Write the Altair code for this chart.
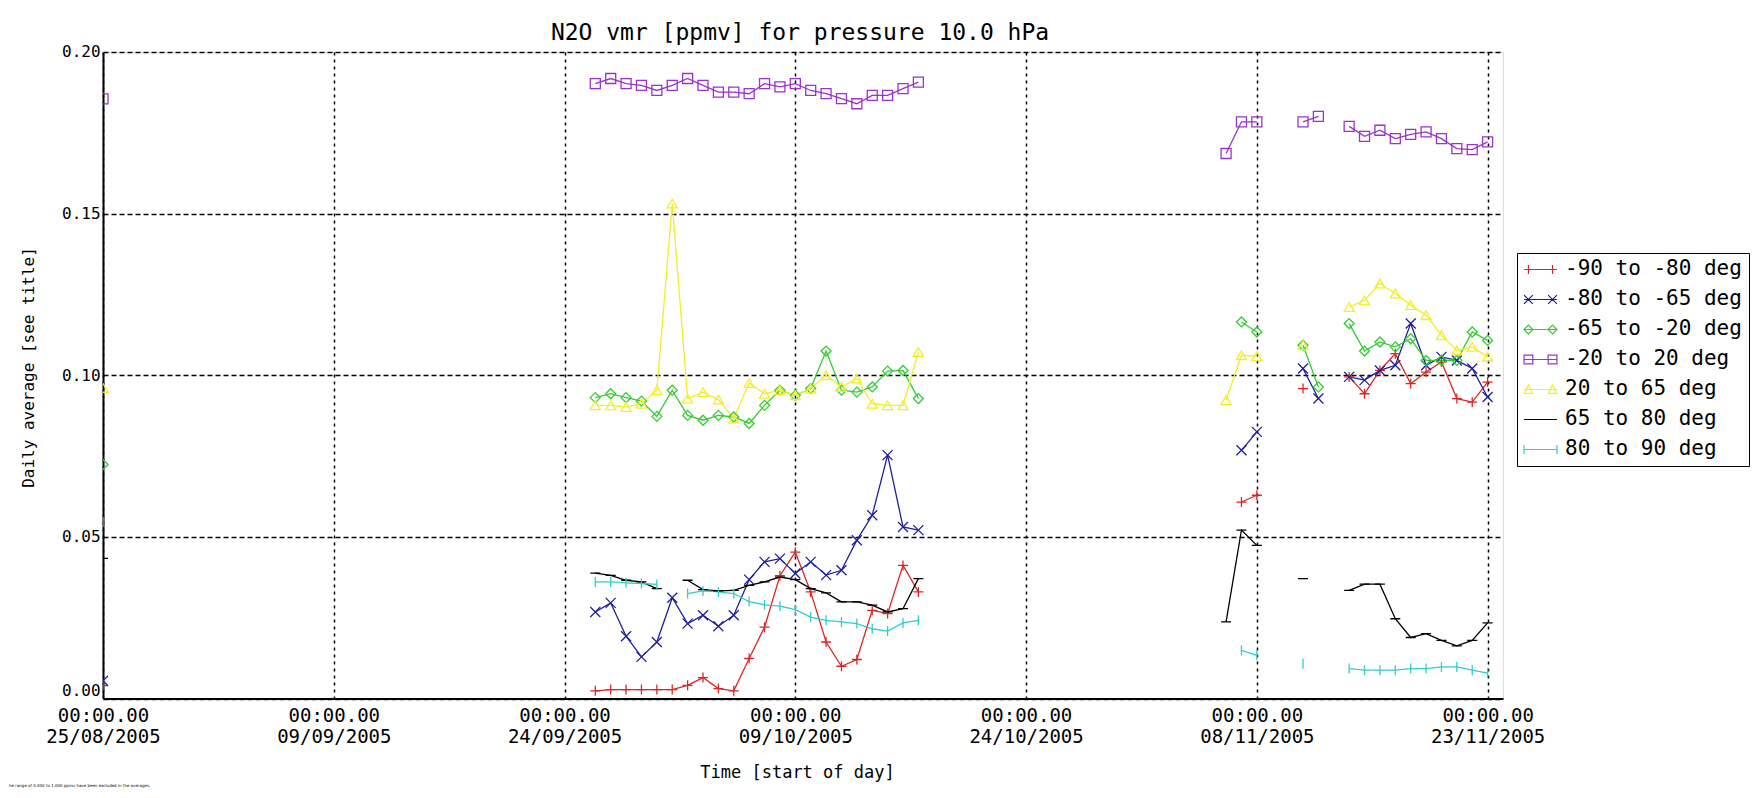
import altair as alt
from datetime import date

# ---------------- data ----------------
dates = [
    "2005-08-25",
    "2005-09-26", "2005-09-27", "2005-09-28", "2005-09-29", "2005-09-30",
    "2005-10-01", "2005-10-02", "2005-10-03", "2005-10-04", "2005-10-05",
    "2005-10-06", "2005-10-07", "2005-10-08", "2005-10-09", "2005-10-10",
    "2005-10-11", "2005-10-12", "2005-10-13", "2005-10-14", "2005-10-15",
    "2005-10-16", "2005-10-17",
    "2005-11-06", "2005-11-07", "2005-11-08", "2005-11-09", "2005-11-10",
    "2005-11-11", "2005-11-12", "2005-11-13", "2005-11-14", "2005-11-15",
    "2005-11-16", "2005-11-17", "2005-11-18", "2005-11-19", "2005-11-20",
    "2005-11-21", "2005-11-22", "2005-11-23",
]

series_names = ["-90 to -80 deg", "-80 to -65 deg", "-65 to -20 deg",
                "-20 to 20 deg", "20 to 65 deg", "65 to 80 deg", "80 to 90 deg"]

red = [0.0040,
       0.0024, 0.0028, 0.0028, 0.0028, 0.0028, 0.0028, 0.0041, 0.0065, 0.0031, 0.0024, 0.0124,
       0.0221, 0.0380, 0.0453, 0.0330, 0.0175, 0.0100, 0.0121, 0.0273, 0.0263, 0.0412, 0.0330,
       None, 0.0608, 0.0629, None, None, 0.0959, None, None, 0.0995, 0.0943,
       0.1015, 0.1067, 0.0974, 0.1010, 0.1041, 0.0928, 0.0917, 0.0979]
blue = [0.0055,
        0.0268, 0.0296, 0.0193, 0.0129, 0.0175, 0.0312, 0.0232, 0.0258, 0.0224, 0.0258, 0.0368,
        0.0423, 0.0433, 0.0387, 0.0423, 0.0382, 0.0397, 0.0490, 0.0567, 0.0753, 0.0531, 0.0521,
        None, 0.0768, 0.0825, None, None, 0.1021, 0.0928, None, 0.0995, 0.0985,
        0.1015, 0.1031, 0.1160, 0.1031, 0.1057, 0.1046, 0.1021, 0.0933]
green = [0.0724,
         0.0931, 0.0943, 0.0931, 0.0920, 0.0873, 0.0954, 0.0876, 0.0861, 0.0876, 0.0871, 0.0851,
         0.0907, 0.0954, 0.0938, 0.0959, 0.1075, 0.0954, 0.0948, 0.0964, 0.1013, 0.1015, 0.0928,
         None, 0.1165, 0.1134, None, None, 0.1093, 0.0964, None, 0.1160, 0.1075,
         0.1103, 0.1088, 0.1113, 0.1046, 0.1046, 0.1046, 0.1134, 0.1108]
purple = [0.1855,
          0.1902, 0.1918, 0.1902, 0.1897, 0.1881, 0.1897, 0.1918, 0.1897, 0.1876, 0.1876, 0.1871,
          0.1902, 0.1892, 0.1902, 0.1881, 0.1871, 0.1856, 0.1840, 0.1866, 0.1866, 0.1887, 0.1907,
          0.1686, 0.1784, 0.1784, None, None, 0.1784, 0.1801, None, 0.1770, 0.1739,
          0.1758, 0.1732, 0.1745, 0.1753, 0.1732, 0.1701, 0.1698, 0.1722]
yellow = [0.0961,
          0.0907, 0.0907, 0.0902, 0.0912, 0.0954, 0.1531, 0.0928, 0.0948, 0.0925, 0.0866, 0.0976,
          0.0943, 0.0954, 0.0938, 0.0959, 0.1000, 0.0964, 0.0990, 0.0912, 0.0907, 0.0907, 0.1072,
          0.0923, 0.1062, 0.1059, None, None, 0.1093, None, None, 0.1211, 0.1232,
          0.1284, 0.1253, 0.1217, 0.1186, 0.1124, 0.1077, 0.1088, 0.1057]
black = [0.0434,
         0.0388, 0.0381, 0.0366, 0.0361, 0.0340, None, 0.0366, 0.0337, 0.0333, 0.0335, 0.0350,
         0.0361, 0.0376, 0.0368, 0.0340, 0.0327, 0.0299, 0.0299, 0.0289, 0.0268, 0.0278, 0.0371,
         0.0237, 0.0521, 0.0474, None, None, 0.0371, None, None, 0.0335, 0.0354,
         0.0354, 0.0247, 0.0189, 0.0201, 0.0180, 0.0163, 0.0180, 0.0234]
cyan = [0.0546,
        0.0361, 0.0361, 0.0358, 0.0356, 0.0353, None, 0.0325, 0.0333, 0.0330, 0.0325, 0.0300,
        0.0290, 0.0286, 0.0275, 0.0252, 0.0242, 0.0237, 0.0232, 0.0216, 0.0209, 0.0234, 0.0242,
        None, 0.0149, 0.0134, None, None, 0.0108, None, None, 0.0093, 0.0088,
        0.0088, 0.0088, 0.0093, 0.0093, 0.0098, 0.0098, 0.0088, 0.0079]

series_values = [red, blue, green, purple, yellow, black, cyan]

y_ticks = [0.0, 0.05, 0.10, 0.15, 0.20]
title_text = "N2O vmr [ppmv] for pressure 10.0 hPa"
footnote = "he range of 0.000 to 1.000 ppmv have been excluded in the averages."

# ---------------- styling ----------------
colors = ["#dc2626", "#1f1f9a", "#33cc33", "#9933cc", "#f2ee2a", "#000000", "#33cccc"]
marker_paths = [
    "M-1,0H1M0,-1V1",
    "M-1,-1L1,1M-1,1L1,-1",
    "diamond",
    "square",
    "triangle-up",
    "M-1,0H1",
    "M0,-1V1",
]
marker_sizes = [100, 100, 110, 100, 110, 144, 70]
legend_paths = [
    "M-3,0H3M-2.2,-0.8V0.8M2.2,-0.8V0.8",
    "M-3,0H3M-3,-0.8L-1.4,0.8M-3,0.8L-1.4,-0.8M1.4,-0.8L3,0.8M1.4,0.8L3,-0.8",
    "M-3,0H3M-3,0L-2.2,-0.8L-1.4,0L-2.2,0.8ZM1.4,0L2.2,-0.8L3,0L2.2,0.8Z",
    "M-3,0H3M-3,-0.8H-1.4V0.8H-3ZM1.4,-0.8H3V0.8H1.4Z",
    "M-3,0H3M-3,0.7L-2.2,-0.8L-1.4,0.7ZM1.4,0.7L2.2,-0.8L3,0.7Z",
    "M-3,0H3",
    "M-3,0H3M-3,-0.8V0.8M3,-0.8V0.8",
]

FONT = "DejaVu Sans Mono"
PLOT_W = 1400
PLOT_H = 646.6

# ---------------- long table with line segments broken at gaps ----------------
records = []
for name, vals in zip(series_names, series_values):
    seg = 0
    prev = None
    for d, v in zip(dates, vals):
        if v is None:
            prev = None
            continue
        n = date.fromisoformat(d).toordinal()
        if prev is None or n - prev > 1:
            seg += 1
        records.append({"date": d, "value": v, "series": name, "seg": f"{name}#{seg}"})
        prev = n

data = alt.Data(values=records)

tick_dates = [
    alt.DateTime(year=2005, month="Aug", date=25, utc=True),
    alt.DateTime(year=2005, month="Sep", date=9, utc=True),
    alt.DateTime(year=2005, month="Sep", date=24, utc=True),
    alt.DateTime(year=2005, month="Oct", date=9, utc=True),
    alt.DateTime(year=2005, month="Oct", date=24, utc=True),
    alt.DateTime(year=2005, month="Nov", date=8, utc=True),
    alt.DateTime(year=2005, month="Nov", date=23, utc=True),
]

x_enc = alt.X(
    "date:T",
    scale=alt.Scale(type="utc", domain=[
        alt.DateTime(year=2005, month="Aug", date=25, utc=True),
        alt.DateTime(year=2005, month="Nov", date=24, utc=True)]),
    axis=alt.Axis(
        values=tick_dates,
        labelExpr="['00:00.00', utcFormat(datum.value, '%d/%m/%Y')]",
        labelFont=FONT, labelFontSize=19, labelLineHeight=21, labelColor="black",
        labelPadding=8, labelFlush=False, labelOverlap=False, labelBound=False,
        ticks=False, tickSize=0, grid=True, gridColor="black", gridDash=[3, 4], gridWidth=1.5,
        gridOpacity=1, domain=True, domainColor="black", domainWidth=2,
        titleFont=FONT, titleFontSize=17, titleFontWeight="normal", titleColor="black",
        titleX=694, titleY=74, titleBaseline="middle", titleAlign="center",
    ),
    title="Time [start of day]",
)
y_enc = alt.Y(
    "value:Q",
    scale=alt.Scale(domain=[0, 0.2], nice=False, zero=False),
    axis=alt.Axis(
        values=y_ticks, format=".2f",
        labelFont=FONT, labelFontSize=16, labelColor="black", labelPadding=3,
        labelBaseline={"condition": {"test": "datum.value == 0", "value": "bottom"}, "value": "middle"},
        ticks=False, tickSize=0, grid=True, gridColor="black", gridDash=[5, 3], gridWidth=1.5,
        gridOpacity=1, domain=True, domainColor="black", domainWidth=2,
        titleFont=FONT, titleFontSize=16, titleFontWeight="normal", titleColor="black",
        titleX=-75, titleY=315, titleAngle=270, titleAlign="center", titleBaseline="middle",
    ),
    title="Daily average [see title]",
)

color_scale = alt.Scale(domain=series_names, range=colors)
base = alt.Chart(data)

lines = base.mark_line(strokeWidth=1.3, clip=True).encode(
    x=x_enc, y=y_enc,
    color=alt.Color("series:N", scale=color_scale, legend=None),
    detail="seg:N",
)

points = base.mark_point(filled=False, strokeWidth=1.3, opacity=1, clip=True).encode(
    x=x_enc, y=y_enc,
    color=alt.Color("series:N", scale=color_scale, legend=None),
    shape=alt.Shape("series:N", scale=alt.Scale(domain=series_names, range=marker_paths), legend=None),
    size=alt.Size("series:N", scale=alt.Scale(domain=series_names, range=marker_sizes), legend=None),
)

legend_def = alt.Legend(
    title=None, orient="none", legendX=1414, legendY=201, direction="vertical",
    strokeColor="black", fillColor="white", padding=6,
    labelFont=FONT, labelFontSize=21, labelColor="black", labelOffset=14, labelLimit=400,
    labelExpr="datum.label + '\u00a0\u00a0'",
    symbolOffset=7, symbolSize=120, symbolStrokeWidth=1.2, rowPadding=8,
)

legend_layer = base.transform_filter("false").mark_point(filled=False, strokeWidth=1.2, opacity=1).encode(
    x=x_enc, y=y_enc,
    color=alt.Color("series:N", scale=color_scale, legend=legend_def),
    shape=alt.Shape("series:N", scale=alt.Scale(domain=series_names, range=legend_paths), legend=legend_def),
)

title_layer = alt.Chart(alt.Data(values=[{"t": title_text}])).mark_text(
    align="center", baseline="middle", fontSize=23, font=FONT, color="black"
).encode(x=alt.value(697), y=alt.value(-19), text="t:N")

foot = alt.Chart(alt.Data(values=[{"t": footnote}])).mark_text(
    align="left", baseline="middle", fontSize=4, font="DejaVu Sans", color="black"
).encode(x=alt.value(-94), y=alt.value(734), text="t:N")

chart = alt.layer(lines, points, legend_layer, title_layer, foot).resolve_scale(
    color="independent", shape="independent", size="independent"
).properties(
    width=PLOT_W, height=PLOT_H,
    autosize=alt.AutoSizeParams(type="none"),
    padding={"left": 95, "top": 44, "right": 251, "bottom": 89},
).configure_view(stroke="black", strokeWidth=2).configure(background="white")

chart.save("out.html", embed_options={"renderer": "svg", "actions": False})
